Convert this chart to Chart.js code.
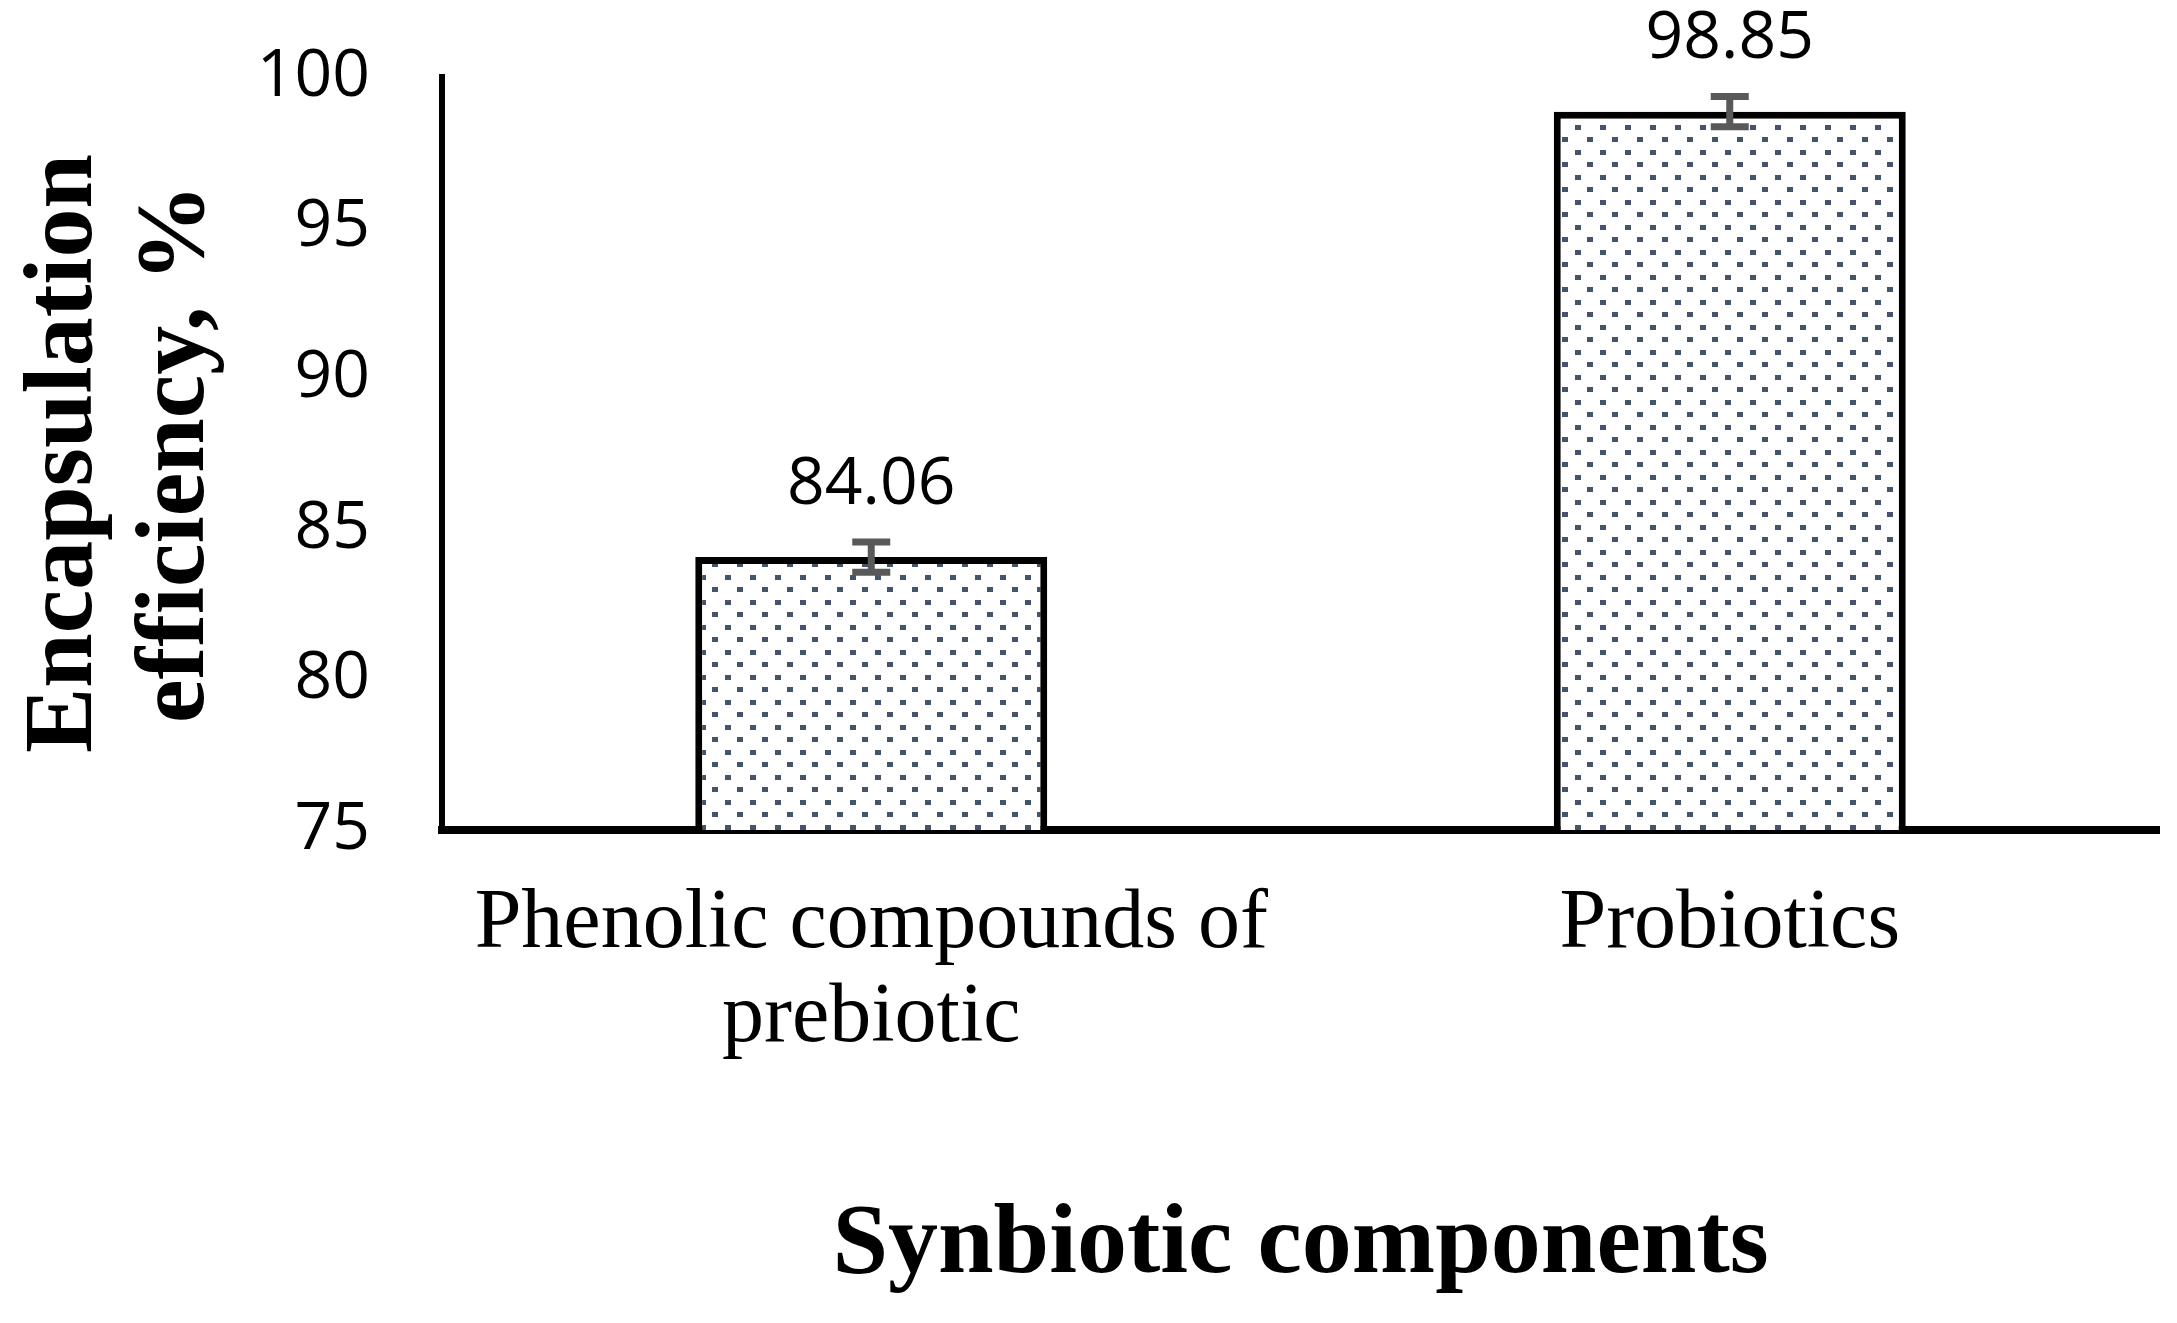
<!DOCTYPE html>
<html>
<head>
<meta charset="utf-8">
<script src="https://cdn.jsdelivr.net/npm/chart.js@4.4.1/dist/chart.umd.min.js"></script>
<style>
  body { margin: 0; background: #fff; }
  #wrap { width: 2177px; height: 1323px; }
</style>
</head>
<body>
<div id="wrap"><canvas id="efficiency" width="2177" height="1323"></canvas></div>
<script>
// values
const categories = [['Phenolic compounds of', 'prebiotic'], 'Probiotics']
const efficiency = [84.06, 98.85]
const errors = [0.5, 0.5]
const valueLabels = ['84.06', '98.85']
const yTicks = [75, 80, 85, 90, 95, 100]

const serif = "'Liberation Serif', 'Times New Roman', serif"
const sans = "'Open Sans', 'Noto Sans', sans-serif"

function dotPattern(){
    const c = document.createElement('canvas')
    c.width = 25
    c.height = 25
    const g = c.getContext('2d')
    g.fillStyle = '#ffffff'
    g.fillRect(0, 0, 25, 25)
    g.fillStyle = '#44546a'
    g.fillRect(0, 0, 6, 5)
    g.fillRect(12, 12, 6, 5)
    return g.createPattern(c, 'repeat')
}

// error bars + value labels, placed through the y scale
const errorBars = {
    id: 'errorBars',
    afterDatasetsDraw(chart){
        const ctx = chart.ctx
        const y = chart.scales.y
        const meta = chart.getDatasetMeta(0)
        ctx.save()
        meta.data.forEach((bar, i) => {
            const top = y.getPixelForValue(efficiency[i] + errors[i])
            const bottom = y.getPixelForValue(efficiency[i] - errors[i])
            ctx.strokeStyle = '#595959'
            ctx.lineWidth = 7
            ctx.lineCap = 'butt'
            ctx.beginPath()
            ctx.moveTo(bar.x, top)
            ctx.lineTo(bar.x, bottom)
            ctx.moveTo(bar.x - 19, top)
            ctx.lineTo(bar.x + 19, top)
            ctx.moveTo(bar.x - 19, bottom)
            ctx.lineTo(bar.x + 19, bottom)
            ctx.stroke()

            ctx.fillStyle = '#000'
            ctx.font = `66px ${sans}`
            ctx.textAlign = 'center'
            ctx.textBaseline = 'middle'
            ctx.fillText(valueLabels[i], bar.x, y.getPixelForValue(efficiency[i]) - 72)
        })
        ctx.restore()
    }
}

const config = {
    type: 'bar',
    data: {
        labels: categories,
        datasets: [{
            data: efficiency,
            backgroundColor: dotPattern(),
            borderColor: '#000',
            borderWidth: 7,
            borderSkipped: 'start',
            barPercentage: 0.41,
            categoryPercentage: 1
        }]
    },
    options: {
        responsive: false,
        animation: false,
        devicePixelRatio: 1,
        layout: {padding: {top: 77, right: 18, left: 0, bottom: 0}},
        plugins: {
            legend: {display: false},
            tooltip: {enabled: false}
        },
        scales: {
            x: {
                grid: {drawOnChartArea: false, drawTicks: false},
                border: {display: true, color: '#000', width: 8},
                ticks: {
                    color: '#000',
                    padding: 48,
                    maxRotation: 0,
                    font: {family: serif, size: 84, lineHeight: 1.12}
                },
                title: {
                    display: true,
                    text: 'Synbiotic components',
                    color: '#000',
                    font: {family: serif, size: 100, weight: 'bold', lineHeight: 1.15},
                    padding: {top: 0, bottom: 19}
                },
                afterFit(scale){ scale.height = 493 }
            },
            y: {
                min: yTicks[0],
                max: yTicks[yTicks.length - 1],
                grid: {drawOnChartArea: false, drawTicks: false},
                border: {display: true, color: '#000', width: 6},
                ticks: {
                    stepSize: yTicks[1] - yTicks[0],
                    color: '#000',
                    padding: 72,
                    font: {family: sans, size: 66}
                },
                title: {
                    display: true,
                    text: ['Encapsulation', 'efficiency, %'],
                    color: '#000',
                    font: {family: serif, size: 98, weight: 'bold', lineHeight: 1.15},
                    padding: {top: 9, bottom: 0}
                },
                afterFit(scale){
                    scale.width = 442
                    // tick padding would otherwise push the plot top down
                    scale.paddingTop = 0
                    scale.paddingBottom = 0
                }
            }
        }
    },
    plugins: [errorBars]
}

new Chart(document.getElementById('efficiency'), config)
</script>
</body>
</html>
